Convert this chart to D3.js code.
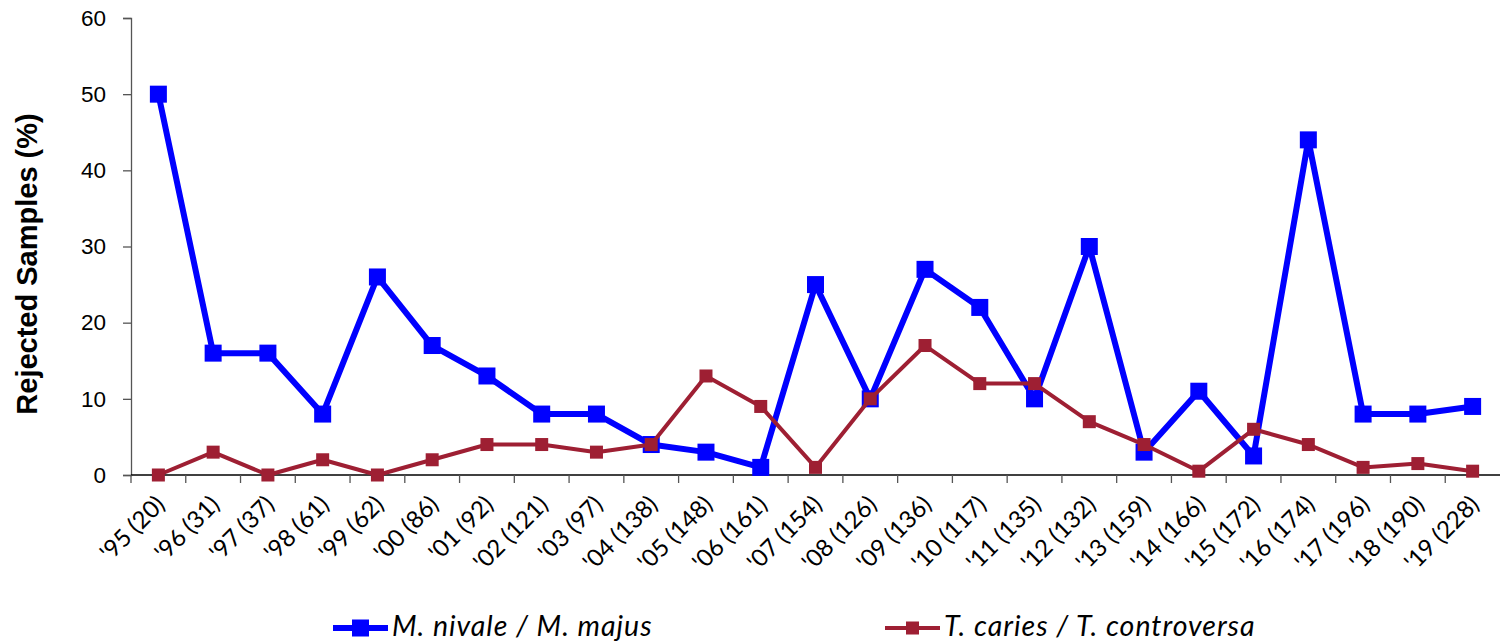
<!DOCTYPE html>
<html><head><meta charset="utf-8">
<script src="https://cdn.jsdelivr.net/npm/d3@7"></script>
<style>body{margin:0;background:#fff}</style>
</head><body>
<svg id="c" width="1501" height="643"></svg>
<script>
const categories = ["'95 (20)","'96 (31)","'97 (37)","'98 (61)","'99 (62)","'00 (86)","'01 (92)","'02 (121)","'03 (97)","'04 (138)","'05 (148)","'06 (161)","'07 (154)","'08 (126)","'09 (136)","'10 (117)","'11 (135)","'12 (132)","'13 (159)","'14 (166)","'15 (172)","'16 (174)","'17 (196)","'18 (190)","'19 (228)"];
const nivale = [50,16,16,8,26,17,13,8,8,4,3,1,25,10,27,22,10,30,3,11,2.5,44,8,8,9];
const caries = [0,3,0,2,0,2,4,4,3,4,13,9,1,10,17,12,12,7,4,0.5,6,4,1,1.5,0.5];
const yTicks = [0,10,20,30,40,50,60];
const seriesNames = ["M. nivale / M. majus","T. caries / T. controversa"];

(function(){
const svg = d3.select("#c");
const mLeft = 131, mRight = 1500, mTop = 18, mBottom = 475;
const x = d3.scaleBand().domain(categories).range([mLeft, mRight]);
const y = d3.scaleLinear().domain([0,60]).range([mBottom, mTop]);

// y axis
const ya = svg.append("g").attr("transform",`translate(${mLeft},0)`)
  .call(d3.axisLeft(y).tickValues(yTicks).tickSize(8).tickPadding(17));
ya.attr("font-size",null).attr("font-family",null);
ya.select(".domain").attr("stroke","#555").attr("stroke-width",1.3);
ya.selectAll(".tick line").attr("stroke","#555").attr("stroke-width",1.3);
ya.selectAll("text").style("font-family","'Liberation Sans', Arial, sans-serif").style("font-size","22.5px").attr("fill","#000");

// x axis with ticks at band boundaries
const xa = svg.append("g").attr("transform",`translate(0,${mBottom})`);
xa.append("line").attr("x1",mLeft).attr("x2",mRight).attr("y1",0).attr("y2",0).attr("stroke","#000").attr("stroke-width",1.3);
const bounds = categories.map(c=>x(c));
xa.selectAll("line.t").data(bounds).enter().append("line").attr("class","t")
  .attr("x1",d=>d).attr("x2",d=>d).attr("y1",0).attr("y2",8).attr("stroke","#555").attr("stroke-width",1.3);
xa.selectAll("text").data(categories).enter().append("text")
  .attr("transform",d=>`translate(${x(d)+x.bandwidth()/2+2},${25}) rotate(-45)`)
  .attr("text-anchor","end").attr("dy","0.35em")
  .attr("font-family","Lato, 'Open Sans', sans-serif").attr("font-size",24).attr("fill","#000")
  .text(d=>d);

// y title
svg.append("text").attr("transform",`translate(37,${264}) rotate(-90)`)
  .attr("text-anchor","middle").attr("font-family","Liberation Sans, Arial, sans-serif")
  .attr("font-weight","bold").attr("font-size",29).text("Rejected Samples (%)");

const cx = d => x(d)+x.bandwidth()/2;
function drawSeries(vals, color, lw, ms){
  const line = d3.line().x((d,i)=>cx(categories[i])).y(d=>y(d));
  svg.append("path").datum(vals).attr("d",line).attr("fill","none").attr("stroke",color).attr("stroke-width",lw).attr("stroke-linejoin","round");
  svg.append("g").selectAll("rect").data(vals).enter().append("rect")
    .attr("x",(d,i)=>cx(categories[i])-ms/2).attr("y",d=>y(d)-ms/2)
    .attr("width",ms).attr("height",ms).attr("fill",color);
}
drawSeries(nivale,"#0000ff",6,17);
drawSeries(caries,"#9e1f33",4,13);

// legend
const leg = [{name:seriesNames[0],color:"#0000ff",lw:6,ms:17,x:333},{name:seriesNames[1],color:"#9e1f33",lw:4,ms:13,x:885}];
const ly = 628;
leg.forEach(l=>{
  const g = svg.append("g");
  g.append("line").attr("x1",l.x).attr("x2",l.x+55).attr("y1",ly).attr("y2",ly).attr("stroke",l.color).attr("stroke-width",l.lw);
  g.append("rect").attr("x",l.x+27.5-l.ms/2).attr("y",ly-l.ms/2).attr("width",l.ms).attr("height",l.ms).attr("fill",l.color);
  g.append("text").attr("x",l.x+59).attr("y",636)
    .attr("font-family","Lato, 'Open Sans', sans-serif").attr("font-style","italic").attr("font-size",28.5)
    .attr("letter-spacing","1px").text(l.name);
});
})();
</script>
</body></html>
